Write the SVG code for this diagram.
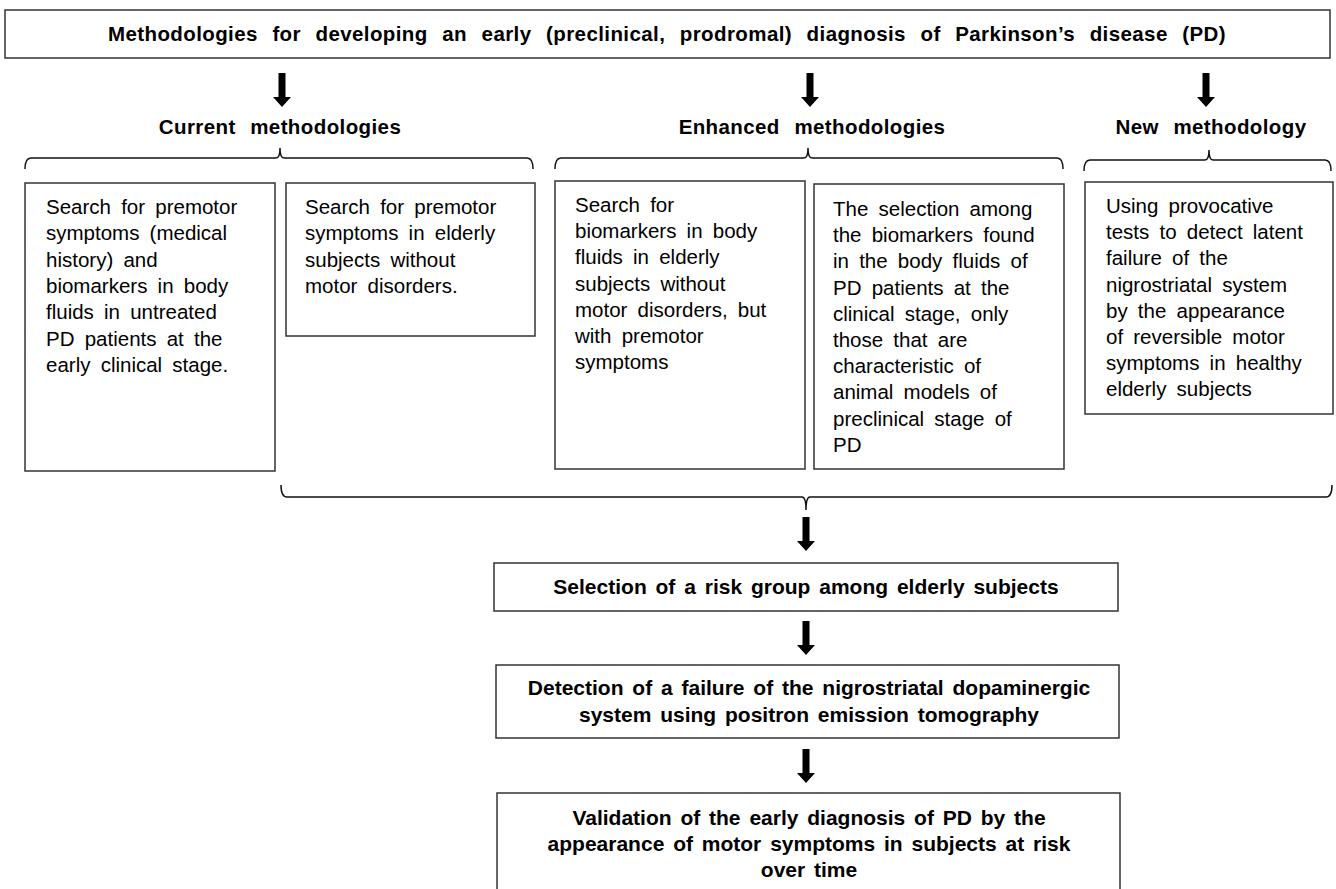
<svg xmlns="http://www.w3.org/2000/svg" width="1336" height="889" viewBox="0 0 1336 889">
<style>
.box{fill:#fff;stroke:#333;stroke-width:1.5}
.brace{fill:none;stroke:#111;stroke-width:1.5}
.t{font-family:"Liberation Sans",Arial,sans-serif;font-size:20.5px;fill:#000;word-spacing:4.5px}
.h{font-family:"Liberation Sans",Arial,sans-serif;font-size:20.5px;font-weight:bold;fill:#000;letter-spacing:0.4px;word-spacing:8.5px;text-anchor:middle}
.b{font-family:"Liberation Sans",Arial,sans-serif;font-size:21px;font-weight:bold;fill:#000;word-spacing:3px;text-anchor:middle}
</style>
<defs>
<path id="arr" d="M-3.5,0 H3.5 V24 H9 L0,34 L-9,24 H-3.5 Z" fill="#000"/>
</defs>
<rect width="1336" height="889" fill="#fff"/>

<g id="title">
<rect class="box" x="5" y="10" width="1325" height="48"/>
<text class="h" x="667" y="41">Methodologies for developing an early (preclinical, prodromal) diagnosis of Parkinson’s disease (PD)</text>
</g>

<g id="heading-current"><text class="h" x="280" y="134">Current methodologies</text></g>
<g id="heading-enhanced"><text class="h" x="812" y="134">Enhanced methodologies</text></g>
<g id="heading-new"><text class="h" x="1211" y="134">New methodology</text></g>

<g id="box1">
<rect class="box" x="25" y="183" width="250" height="288"/>
<text class="t" x="46" y="214">
<tspan x="46" dy="0">Search for premotor</tspan>
<tspan x="46" dy="26.3">symptoms (medical</tspan>
<tspan x="46" dy="26.3">history) and</tspan>
<tspan x="46" dy="26.3">biomarkers in body</tspan>
<tspan x="46" dy="26.3">fluids in untreated</tspan>
<tspan x="46" dy="26.3">PD patients at the</tspan>
<tspan x="46" dy="26.3">early clinical stage.</tspan>
</text>
</g>

<g id="box2">
<rect class="box" x="286" y="183" width="249" height="153"/>
<text class="t" x="305" y="214">
<tspan x="305" dy="0">Search for premotor</tspan>
<tspan x="305" dy="26.3">symptoms in elderly</tspan>
<tspan x="305" dy="26.3">subjects without</tspan>
<tspan x="305" dy="26.3">motor disorders.</tspan>
</text>
</g>

<g id="box3">
<rect class="box" x="555" y="181" width="250" height="288"/>
<text class="t" x="575" y="212">
<tspan x="575" dy="0">Search for</tspan>
<tspan x="575" dy="26.2">biomarkers in body</tspan>
<tspan x="575" dy="26.2">fluids in elderly</tspan>
<tspan x="575" dy="26.2">subjects without</tspan>
<tspan x="575" dy="26.2">motor disorders, but</tspan>
<tspan x="575" dy="26.2">with premotor</tspan>
<tspan x="575" dy="26.2">symptoms</tspan>
</text>
</g>

<g id="box4">
<rect class="box" x="814" y="184" width="250" height="285"/>
<text class="t" x="833" y="216">
<tspan x="833" dy="0">The selection among</tspan>
<tspan x="833" dy="26.2">the biomarkers found</tspan>
<tspan x="833" dy="26.2">in the body fluids of</tspan>
<tspan x="833" dy="26.2">PD patients at the</tspan>
<tspan x="833" dy="26.2">clinical stage, only</tspan>
<tspan x="833" dy="26.2">those that are</tspan>
<tspan x="833" dy="26.2">characteristic of</tspan>
<tspan x="833" dy="26.2">animal models of</tspan>
<tspan x="833" dy="26.2">preclinical stage of</tspan>
<tspan x="833" dy="26.2">PD</tspan>
</text>
</g>

<g id="box5">
<rect class="box" x="1085" y="182" width="248" height="232"/>
<text class="t" x="1106" y="213">
<tspan x="1106" dy="0">Using provocative</tspan>
<tspan x="1106" dy="26.2">tests to detect latent</tspan>
<tspan x="1106" dy="26.2">failure of the</tspan>
<tspan x="1106" dy="26.2">nigrostriatal system</tspan>
<tspan x="1106" dy="26.2">by the appearance</tspan>
<tspan x="1106" dy="26.2">of reversible motor</tspan>
<tspan x="1106" dy="26.2">symptoms in healthy</tspan>
<tspan x="1106" dy="26.2">elderly subjects</tspan>
</text>
</g>

<g id="box6">
<rect class="box" x="494" y="563" width="624" height="48"/>
<text class="b" x="806" y="594">Selection of a risk group among elderly subjects</text>
</g>

<g id="box7">
<rect class="box" x="496" y="665" width="623" height="73"/>
<text class="b" x="809" y="695">Detection of a failure of the nigrostriatal dopaminergic</text>
<text class="b" x="809" y="722">system using positron emission tomography</text>
</g>

<g id="box8">
<rect class="box" x="497" y="793" width="623" height="100"/>
<text class="b" x="809" y="825">Validation of the early diagnosis of PD by the</text>
<text class="b" x="809" y="851">appearance of motor symptoms in subjects at risk</text>
<text class="b" x="809" y="877">over time</text>
</g>

<g id="connectors">
<use href="#arr" x="282" y="73"/>
<use href="#arr" x="810" y="73"/>
<use href="#arr" x="1206" y="73"/>
<path class="brace" d="M25,169 Q25,158 31,158 H276 Q280,158 280,148 Q280,158 284,158 H527 Q533,158 533,169"/>
<path class="brace" d="M555,169 Q555,158 561,158 H804 Q808,158 808,148 Q808,158 812,158 H1057 Q1063,158 1063,169"/>
<path class="brace" d="M1084,171 Q1084,160 1090,160 H1205 Q1209,160 1209,150 Q1209,160 1213,160 H1325 Q1331,160 1331,171"/>
<path class="brace" d="M281,485 Q281,497 287,497 H802 Q806,497 806,510 Q806,497 810,497 H1326 Q1332,497 1332,485"/>
<use href="#arr" x="806" y="517"/>
<use href="#arr" x="806" y="621"/>
<use href="#arr" x="806" y="749"/>
</g>
</svg>
